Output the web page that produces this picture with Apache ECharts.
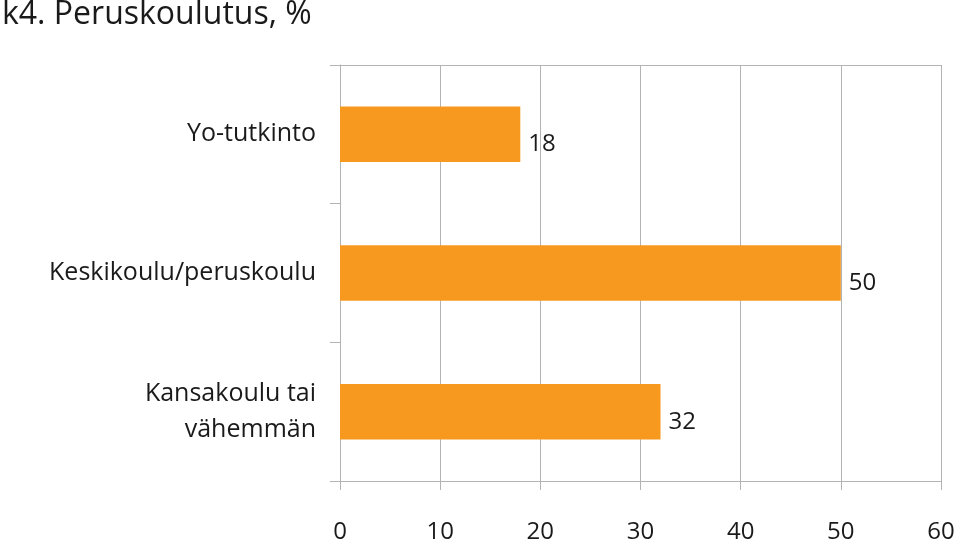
<!DOCTYPE html>
<html>
<head>
<meta charset="utf-8">
<script src="https://cdn.jsdelivr.net/npm/echarts@6/dist/echarts.min.js"></script>
<style>
  html, body { margin: 0; padding: 0; background: #fff; }
  #chart { width: 960px; height: 545px; }
</style>
</head>
<body>
<div id="chart"></div>
<script>
// koulutusluokat ja osuudet (%)
const categories = ['Yo-tutkinto', 'Keskikoulu/peruskoulu', 'Kansakoulu tai\nvähemmän']
const values = [18, 50, 32]
const xTicks = [0, 10, 20, 30, 40, 50, 60]

const fontFamily = '"Open Sans", Lato, sans-serif'
const gridColor = '#b3b3b3'

echarts.init(document.querySelector('#chart')).setOption({
    animation: false,
    title: {
        text: 'k4. Peruskoulutus, %',
        left: -3,
        top: -6,
        textStyle: {
            fontFamily: fontFamily,
            fontSize: 32,
            fontWeight: 'normal',
            color: '#1a1a1a'
        }
    },
    grid: {
        left: 340,
        right: 19,
        top: 65,
        bottom: 64
    },
    xAxis: [{
        type: 'value',
        min: xTicks[0],
        max: xTicks[xTicks.length - 1],
        interval: 10,
        axisLine: { show: true, lineStyle: { color: gridColor, width: 1 } },
        axisTick: { show: true, length: 9, lineStyle: { color: gridColor } },
        splitLine: { show: true, lineStyle: { color: gridColor, width: 1 } },
        axisLabel: {
            margin: 39,
            fontFamily: fontFamily,
            fontSize: 24,
            color: '#1a1a1a'
        }
    }, {
        // yläreuna
        type: 'value',
        position: 'top',
        min: 0,
        max: 60,
        axisLine: { show: true, lineStyle: { color: gridColor, width: 1 } },
        axisTick: { show: false },
        axisLabel: { show: false },
        splitLine: { show: false }
    }],
    yAxis: {
        type: 'category',
        data: categories,
        inverse: true,
        axisLine: { show: true, lineStyle: { color: gridColor, width: 1 } },
        axisTick: { show: true, length: 10, lineStyle: { color: gridColor } },
        axisLabel: {
            margin: 24,
            fontFamily: fontFamily,
            fontSize: 25,
            lineHeight: 36,
            color: '#1a1a1a'
        }
    },
    series: [{
        type: 'bar',
        data: values,
        barWidth: '40%',
        itemStyle: { color: '#f7991f' },
        label: {
            show: true,
            position: 'right',
            distance: 8,
            offset: [0, 10],
            fontFamily: fontFamily,
            fontSize: 24,
            color: '#1a1a1a'
        }
    }]
});
</script>
</body>
</html>
